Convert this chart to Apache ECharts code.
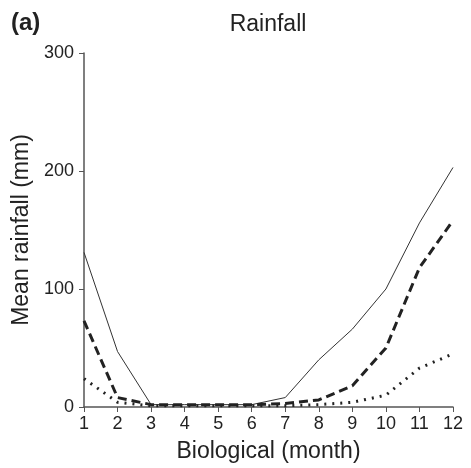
<!DOCTYPE html>
<html><head><meta charset="utf-8">
<script src="https://cdn.jsdelivr.net/npm/echarts@6/dist/echarts.min.js"></script>
<style>html,body{margin:0;padding:0;background:#fff}#c{width:471px;height:468px}</style>
</head><body><div id="c"></div>
<script>
const months = [1,2,3,4,5,6,7,8,9,10,11,12];
const solidSeries = [131,47,2,2,2,2,8,40,66,100,156,203];
const dashedSeries = [73,8,2,2,2,2,3,6,18,50,118,158];
const dottedSeries = [24,4,1,1,1,1,1,2,4,10,33,45];
const yTicks = [0,100,200,300];
const pair = arr => months.map((m,i)=>[m,arr[i]]);
const chart = echarts.init(document.getElementById('c'));
const font = 'Liberation Sans, Arial, sans-serif';
chart.setOption({
  animation:false,
  backgroundColor:'#fff',
  title:[
    {text:'Rainfall',left:263,top:8,textAlign:'center',textStyle:{fontFamily:font,fontSize:23,fontWeight:'normal',color:'#222'}},
    {text:'(a)',left:6,top:6,textStyle:{fontFamily:font,fontSize:24,fontWeight:'bold',color:'#222'}}
  ],
  grid:{left:84,right:18,top:53,bottom:61},
  xAxis:{type:'value',min:1,max:12,interval:1,
    name:'Biological (month)',nameLocation:'middle',nameGap:33,
    nameTextStyle:{fontFamily:font,fontSize:23,color:'#222'},
    axisLine:{lineStyle:{color:'#555',width:1.5}},
    axisTick:{show:true,length:5,lineStyle:{color:'#555'}},
    axisLabel:{fontFamily:font,fontSize:18,color:'#222',margin:8},
    splitLine:{show:false}},
  yAxis:{type:'value',min:0,max:300,interval:100,
    name:'Mean rainfall (mm)',nameLocation:'middle',nameGap:50,
    nameTextStyle:{fontFamily:font,fontSize:23,color:'#222'},
    axisLine:{show:true,lineStyle:{color:'#555',width:1.5}},
    axisTick:{show:true,length:5,lineStyle:{color:'#555'}},
    axisLabel:{fontFamily:font,fontSize:18,color:'#222',margin:10,
      formatter:v=>yTicks.includes(v)?String(v):''},
    splitLine:{show:false}},
  series:[
    {type:'line',data:pair(solidSeries),symbol:'none',lineStyle:{color:'#333',width:1}},
    {type:'line',data:pair(dashedSeries),symbol:'none',lineStyle:{color:'#222',width:3,type:[9,5]}},
    {type:'line',data:pair(dottedSeries),symbol:'none',lineStyle:{color:'#222',width:3,type:[2,6]}}
  ]
});
</script></body></html>
